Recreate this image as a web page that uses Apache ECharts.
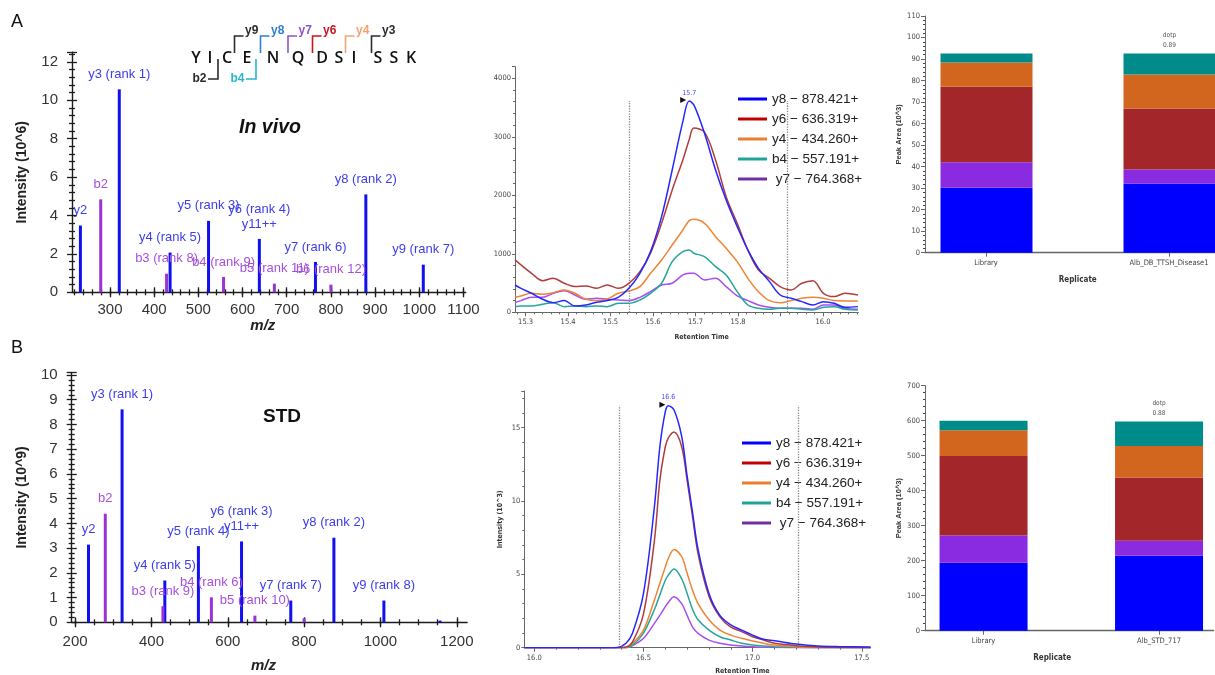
<!DOCTYPE html>
<html>
<head>
<meta charset="utf-8">
<script src="https://cdn.jsdelivr.net/npm/echarts@6/dist/echarts.min.js"></script>
<style>
  html, body { margin: 0; padding: 0; background: #fff; }
  #fig { width: 1215px; height: 675px; }
</style>
</head>
<body>
<div id="fig"></div>
<script>
// ---------- MS/MS spectra: fragment m/z, intensity, ion series, annotation ----------
const invivoMz        = [233, 279, 321, 428, 436, 523, 557, 638, 672, 765, 800, 879, 1009];
const invivoIntensity = [3.48, 4.84, 10.57, 0.97, 2.07, 3.72, 0.80, 2.78, 0.45, 1.58, 0.40, 5.10, 1.44];
const invivoIon       = ['y', 'b', 'y', 'b', 'y', 'y', 'b', 'y', 'b', 'y', 'b', 'y', 'y'];
const invivoLabels    = ['y2', 'b2', 'y3 (rank 1)', 'b3 (rank 8)', 'y4 (rank 5)', 'y5 (rank 3)', 'b4 (rank 9)',
                         'y6 (rank 4)\ny11++', 'b5 (rank 11)', 'y7 (rank 6)', 'b6 (rank 12)', 'y8 (rank 2)', 'y9 (rank 7)'];

const stdMz           = [235, 279, 323, 430, 435, 523, 557, 636, 671, 765, 800, 878, 1009, 1156];
const stdIntensity    = [3.14, 4.39, 8.61, 0.65, 1.69, 3.08, 1.01, 3.27, 0.27, 0.88, 0.16, 3.42, 0.88, 0.07];
const stdIon          = ['y', 'b', 'y', 'b', 'y', 'y', 'b', 'y', 'b', 'y', 'b', 'y', 'y', 'y'];
const stdLabels       = ['y2', 'b2', 'y3 (rank 1)', 'b3 (rank 9)', 'y4 (rank 5)', 'y5 (rank 4)', 'b4 (rank 6)',
                         'y6 (rank 3)\ny11++', 'b5 (rank 10)', 'y7 (rank 7)', '', 'y8 (rank 2)', 'y9 (rank 8)', ''];

// ---------- extracted-ion chromatograms ----------
const transitions = ['y8 − 878.421+', 'y6 − 636.319+', 'y4 − 434.260+', 'b4 − 557.191+', 'y7 − 764.368+'];

const invivoTime = [15.275, 15.289, 15.314, 15.340, 15.365, 15.391, 15.416, 15.442, 15.467, 15.492, 15.518, 15.543,
                    15.569, 15.594, 15.620, 15.645, 15.670, 15.685, 15.696, 15.721, 15.747, 15.772, 15.798, 15.823,
                    15.848, 15.874, 15.899, 15.925, 15.950, 15.976, 16.001, 16.026, 16.052, 16.082];
const invivoY8 = [467, 410, 325, 222, 165, 200, 108, 125, 171, 200, 256, 410, 667, 1037, 1635, 2433, 3260, 3610,
                  3545, 3060, 2433, 1920, 1465, 1066, 752, 524, 296, 240, 182, 125, 182, 154, 85, 97];
const invivoY6 = [895, 810, 667, 541, 581, 496, 439, 450, 410, 467, 410, 496, 695, 1009, 1521, 2091, 2604, 2950,
                  3150, 3080, 2604, 1977, 1521, 1066, 724, 581, 439, 382, 496, 541, 325, 268, 325, 296];
const invivoY4 = [256, 279, 325, 308, 336, 382, 325, 222, 200, 228, 325, 365, 439, 667, 895, 1151, 1407, 1567,
                  1590, 1521, 1293, 1094, 866, 581, 353, 200, 165, 200, 239, 256, 239, 200, 194, 194];
const invivoB4 = [97, 108, 108, 137, 165, 97, 108, 97, 108, 97, 154, 154, 211, 325, 496, 866, 1037, 1066,
                  1009, 952, 781, 638, 353, 125, 68, 51, 68, 68, 51, 40, 85, 97, 51, 40];
const invivoY7 = [165, 200, 256, 256, 325, 370, 296, 222, 239, 222, 211, 200, 256, 353, 467, 496, 638, 667,
                  667, 553, 581, 439, 279, 200, 125, 85, 68, 68, 68, 51, 125, 125, 68, 51];
const invivoBoundaries = [15.545, 15.915];

const stdTime = [15.954, 16.0, 16.1, 16.2, 16.3, 16.38, 16.42, 16.45, 16.5, 16.55, 16.575, 16.6, 16.614, 16.64,
                 16.675, 16.7, 16.725, 16.75, 16.8, 16.85, 16.9, 16.95, 17.0, 17.05, 17.1, 17.2, 17.3, 17.4, 17.54];
const stdY8 = [0, 0, 0, 0, 0, 0.02, 0.3, 1.0, 3.7, 9.6, 13.7, 16.1, 16.5, 16.2, 14.4, 11.7, 9.2, 6.7, 3.7, 2.2,
               1.55, 1.2, 0.86, 0.57, 0.48, 0.25, 0.11, 0.07, 0.05];
const stdY6 = [0, 0, 0, 0, 0, 0, 0.05, 0.4, 2.3, 7.3, 11.4, 13.7, 14.3, 14.7, 13.7, 11.4, 8.9, 6.4, 3.5, 2.1,
               1.4, 1.1, 0.75, 0.52, 0.3, 0.14, 0.05, 0.02, 0];
const stdY4 = [0, 0, 0, 0, 0, 0, 0.02, 0.3, 1.2, 3.25, 4.4, 5.5, 6.1, 6.7, 6.2, 5.07, 3.9, 3.0, 1.9, 1.2,
               0.86, 0.64, 0.45, 0.3, 0.18, 0.07, 0.02, 0, 0];
const stdB4 = [0, 0, 0, 0, 0, 0, 0, 0.18, 1.0, 2.6, 3.6, 4.6, 4.95, 5.36, 4.7, 3.7, 2.6, 1.9, 1.2, 0.75,
               0.52, 0.3, 0.18, 0.11, 0.07, 0.03, 0, 0, 0];
const stdY7 = [0, 0, 0, 0, 0, 0, 0, 0.14, 0.64, 1.66, 2.2, 2.8, 3.1, 3.48, 3.0, 2.2, 1.4, 0.98, 0.52, 0.3,
               0.18, 0.11, 0.07, 0.03, 0.02, 0, 0, 0, 0];
const stdBoundaries = [16.389, 17.207];

// ---------- peak areas per replicate (10^3), stacked bottom to top: y8, y7, y6, y4, b4 ----------
const invivoReplicates = ['Library', 'Alb_DB_TTSH_Disease1'];
const invivoAreaY8 = [30.2, 32.2];
const invivoAreaY7 = [11.8, 6.5];
const invivoAreaY6 = [35.1, 28.3];
const invivoAreaY4 = [11.3, 15.8];
const invivoAreaB4 = [4.2, 9.8];
const invivoDotp = 0.89;

const stdReplicates = ['Library', 'Alb_STD_717'];
const stdAreaY8 = [194, 214];
const stdAreaY7 = [78, 43];
const stdAreaY6 = [227, 181];
const stdAreaY4 = [74, 90];
const stdAreaB4 = [27, 70];
const stdDotp = 0.88;

// ---------- peptide fragmentation map ----------
const peptide = ['Y', 'I', 'C', 'E', 'N', 'Q', 'D', 'S', 'I', 'S', 'S', 'K'];
const yFragments = ['y9', 'y8', 'y7', 'y6', 'y4', 'y3'];
const bFragments = ['b2', 'b4'];

// ---------- styling ----------
const FONT = "'Liberation Sans', Arial, sans-serif";
const NARROW = "'Liberation Sans Narrow', 'DejaVu Sans Condensed', 'Liberation Sans', sans-serif";
const UI = "'Open Sans', 'Noto Sans', sans-serif";

const ionColor = { y: '#1010f0', b: '#9a32d6' };
const ionLabelColor = { y: '#3d3dea', b: '#a650dc' };
const traceColor = ['#2626ff', '#b23c3c', '#ee8434', '#26a69a', '#a64ff0'];
const legendColor = ['#0000ff', '#c00000', '#ed7d31', '#1fa39a', '#7030a0'];
const areaColor = { y8: '#0000ff', y7: '#8a2be2', y6: '#a3262a', y4: '#d2661e', b4: '#008b8b' };

const fragLayout = {
  residueX: [196, 210, 227, 247, 273, 298, 322, 339, 354, 378, 394, 411],
  yX: [234.5, 260.5, 288, 312.5, 345.5, 371.5],
  yColor: ['#2b2b2b', '#2f7fd3', '#8e55c8', '#c8161e', '#f3a26e', '#2b2b2b'],
  bX: [218, 256],
  bColor: ['#2b2b2b', '#2ab5c9']
};

const grids = [
  { left: 72,    top: 52.3,  width: 393.7, height: 240 },   // 0 spectrum, in vivo
  { left: 515,   top: 66.6,  width: 343.3, height: 245.7 }, // 1 chromatogram, in vivo
  { left: 925,   top: 16,    width: 335.5, height: 236.7 }, // 2 peak-area frame, in vivo
  { left: 71.7,  top: 372.5, width: 395.4, height: 249.8 }, // 3 spectrum, STD
  { left: 524.3, top: 391,   width: 346.2, height: 256.7 }, // 4 chromatogram, STD
  { left: 925,   top: 385.7, width: 288.4, height: 245 },   // 5 peak-area frame, STD
  { left: 895,   top: 16,    width: 366,   height: 236.7 }, // 6 replicate bands, in vivo
  { left: 895.8, top: 385.7, width: 351,   height: 245 }    // 7 replicate bands, STD
].map(g => Object.assign({ outerBoundsMode: 'none', containLabel: false }, g));

const xAxes = [], yAxes = [], series = [];
const addX = o => { xAxes.push(o); return xAxes.length - 1; };
const addY = o => { yAxes.push(o); return yAxes.length - 1; };
const steps = (a, b, s) => { const r = []; for (let k = 0; a + k * s <= b + 1e-9; k++) r.push(+(a + k * s).toFixed(4)); return r; };
const plain = v => String(+v.toFixed(4));
const hidden = { axisLine: { show: false }, axisLabel: { show: false }, splitLine: { show: false } };

// ---------- spectrum panel ----------
function spectrumPanel(g, cfg, mz, inten, ion, labels) {
  const ink = '#1c1c1c';
  const tick = { color: ink, width: 1.3 };
  const xb = { gridIndex: g, type: 'value', min: cfg.xMin, max: cfg.xMax, position: 'bottom', splitLine: { show: false } };
  const xi = addX(Object.assign({}, xb, {
    axisLine: { show: true, onZero: false, lineStyle: { color: ink, width: 1.4 } },
    axisTick: { show: true, customValues: cfg.major, length: 5, lineStyle: tick },
    axisLabel: { show: true, customValues: cfg.labels, margin: cfg.labelMargin, fontSize: 15, color: '#333',
                 fontFamily: FONT, formatter: plain },
    name: 'm/z', nameLocation: 'middle', nameGap: cfg.nameGap,
    nameTextStyle: { fontSize: 15, fontWeight: 'bold', fontStyle: 'italic', color: '#222', fontFamily: FONT, padding: [0, 12, 0, 0] }
  }));
  addX(Object.assign({}, xb, hidden, { axisTick: { show: true, inside: true, customValues: cfg.major, length: 5, lineStyle: tick } }));
  addX(Object.assign({}, xb, hidden, { axisTick: { show: true, customValues: cfg.minor, length: 3, lineStyle: tick } }));
  addX(Object.assign({}, xb, hidden, { axisTick: { show: true, inside: true, customValues: cfg.minor, length: 3, lineStyle: tick } }));

  const yb = { gridIndex: g, type: 'value', min: 0, max: cfg.yMax, interval: cfg.yInterval, position: 'left', splitLine: { show: false } };
  const minor = { show: true, splitNumber: 5, length: 3, lineStyle: tick };
  const yi = addY(Object.assign({}, yb, {
    axisLine: { show: true, onZero: false, lineStyle: { color: ink, width: 1.4 } },
    axisTick: { show: true, length: 5, lineStyle: tick },
    minorTick: minor,
    axisLabel: { show: true, margin: 14, fontSize: 15, color: '#333', fontFamily: FONT, showMaxLabel: false, formatter: plain },
    name: cfg.yName, nameLocation: 'middle', nameGap: 43,
    nameTextStyle: { fontSize: 14, fontWeight: 'bold', color: '#222', fontFamily: FONT }
  }));
  addY(Object.assign({}, yb, hidden, { axisTick: { show: true, inside: true, length: 5, lineStyle: tick }, minorTick: minor }));

  ['y', 'b'].forEach(kind => {
    series.push({
      type: 'bar', name: kind + ' ions', xAxisIndex: xi, yAxisIndex: yi,
      barWidth: 3, barGap: '-100%', itemStyle: { color: ionColor[kind] },
      label: { show: true, position: 'top', distance: 7.5, fontSize: 13, lineHeight: 15,
               color: ionLabelColor[kind], fontFamily: FONT, formatter: '{b}' },
      data: mz.map((m, i) => ion[i] === kind ? { name: labels[i], value: [m, inten[i]] } : null).filter(Boolean)
    });
  });
}

spectrumPanel(0, {
  xMin: 214, xMax: 1105, labels: steps(300, 1100, 100), major: steps(300, 1100, 100), minor: steps(220, 1100, 20),
  labelMargin: 10, nameGap: 21, yMax: 12.5, yInterval: 2, yName: 'Intensity (10^6)'
}, invivoMz, invivoIntensity, invivoIon, invivoLabels);

spectrumPanel(3, {
  xMin: 191, xMax: 1227, labels: steps(200, 1200, 200), major: steps(200, 1200, 200), minor: steps(200, 1200, 50),
  labelMargin: 12, nameGap: 36, yMax: 10.1, yInterval: 1, yName: 'Intensity (10^9)'
}, stdMz, stdIntensity, stdIon, stdLabels);

// ---------- chromatogram panel ----------
function peakOf(time, vals) {
  let k = 0;
  vals.forEach((v, i) => { if (v > vals[k]) k = i; });
  return [time[k], vals[k]];
}

function chromPanel(g, cfg, time, traces, boundaries) {
  const ink = '#666';
  const xb = { gridIndex: g, type: 'value', min: cfg.xMin, max: cfg.xMax, position: 'bottom', splitLine: { show: false } };
  const xi = addX(Object.assign({}, xb, {
    axisLine: { show: true, onZero: false, lineStyle: { color: ink, width: 1 } },
    axisTick: { show: true, customValues: cfg.major, length: 4, lineStyle: { color: ink } },
    axisLabel: { show: true, customValues: cfg.labels, margin: 6, fontSize: 7.5, color: '#444', fontFamily: NARROW,
                 formatter: v => v.toFixed(1) },
    name: 'Retention Time', nameLocation: 'middle', nameGap: cfg.nameGap,
    nameTextStyle: { fontSize: 7, fontWeight: 'bold', color: '#333', fontFamily: NARROW, padding: cfg.namePad }
  }));
  addX(Object.assign({}, xb, hidden, { axisTick: { show: true, customValues: cfg.minor, length: 2, lineStyle: { color: ink } } }));
  const yi = addY({
    gridIndex: g, type: 'value', min: 0, max: cfg.yMax, interval: cfg.yInterval, position: 'left',
    splitLine: { show: false },
    axisLine: { show: true, onZero: false, lineStyle: { color: ink, width: 1 } },
    axisTick: { show: true, length: 3, lineStyle: { color: ink } },
    minorTick: { show: true, splitNumber: 5, length: 2, lineStyle: { color: ink } },
    axisLabel: { show: true, margin: 4, fontSize: 7.5, color: '#444', fontFamily: NARROW, showMaxLabel: false, formatter: plain },
    name: cfg.yName, nameLocation: 'middle', nameGap: 21,
    nameTextStyle: { fontSize: 7, fontWeight: 'bold', color: '#333', fontFamily: NARROW }
  });

  const peak = peakOf(time, traces[0]);
  // y7 first and y8 last, so the y8 trace sits on top
  [4, 3, 2, 1, 0].forEach(k => {
    const s = {
      type: 'line', name: transitions[k], xAxisIndex: xi, yAxisIndex: yi,
      showSymbol: false, smooth: 0.35, z: 2 + (4 - k),
      lineStyle: { color: traceColor[k], width: 1.5 }, itemStyle: { color: traceColor[k] },
      data: time.map((t, i) => [t, traces[k][i]])
    };
    if (k === 0) {
      s.markLine = {
        silent: true, symbol: ['none', 'none'], label: { show: false },
        lineStyle: { color: '#8a8a8a', type: 'dotted', width: 1.3 },
        data: boundaries.map(b => [{ coord: [b, 0] }, { coord: [b, peak[1]] }])
      };
      s.markPoint = {
        silent: true,
        data: [
          { coord: peak, symbol: 'triangle', symbolRotate: -90, symbolSize: 6, symbolOffset: [-6, -1],
            itemStyle: { color: '#111' }, label: { show: false } },
          { coord: peak, symbol: 'circle', symbolSize: 1, itemStyle: { color: 'rgba(0,0,0,0)' },
            label: { show: true, position: 'top', distance: 4, formatter: peak[0].toFixed(1),
                     fontSize: 7, color: '#4b4bff', fontFamily: NARROW } }
        ]
      };
    }
    series.push(s);
  });
}

chromPanel(1, {
  xMin: 15.275, xMax: 16.083, labels: [15.3, 15.4, 15.5, 15.6, 15.7, 15.8, 16.0],
  major: steps(15.3, 16.0, 0.1), minor: steps(15.28, 16.08, 0.02),
  nameGap: 21, namePad: [0, 0, 0, 30], yMax: 4200, yInterval: 1000, yName: ''
}, invivoTime, [invivoY8, invivoY6, invivoY4, invivoB4, invivoY7], invivoBoundaries);

chromPanel(4, {
  xMin: 15.954, xMax: 17.54, labels: [16.0, 16.5, 17.0, 17.5],
  major: steps(16.0, 17.5, 0.5), minor: steps(16.0, 17.5, 0.1),
  nameGap: 20, namePad: [0, 0, 0, 90], yMax: 17.5, yInterval: 5, yName: 'Intensity (10^3)'
}, stdTime, [stdY8, stdY6, stdY4, stdB4, stdY7], stdBoundaries);

// ---------- peak-area panel: visible frame grid + replicate band grid for the stacked bars ----------
function areaPanel(g, bandGrid, cfg, replicates, layers, dotp) {
  const ink = '#666';
  const ticks = replicates.map((r, i) => i);
  addX({
    gridIndex: g, type: 'value', min: cfg.xMin, max: cfg.xMax, position: 'bottom', splitLine: { show: false },
    axisLine: { show: true, onZero: false, lineStyle: { color: ink, width: 1.4 } },
    axisTick: { show: true, customValues: ticks, length: 4, lineStyle: { color: ink } },
    axisLabel: { show: true, customValues: ticks, margin: 6, fontSize: 7.5, color: '#444', fontFamily: NARROW,
                 formatter: v => replicates[Math.round(v)] },
    name: 'Replicate', nameLocation: 'middle', nameGap: 23,
    nameTextStyle: { fontSize: 8, fontWeight: 'bold', color: '#333', fontFamily: NARROW, padding: cfg.namePad }
  });
  addY({
    gridIndex: g, type: 'value', min: 0, max: cfg.yMax, interval: cfg.yInterval, position: 'left',
    splitLine: { show: false },
    axisLine: { show: true, onZero: false, lineStyle: { color: ink, width: 1 } },
    axisTick: { show: true, length: 4, lineStyle: { color: ink } },
    minorTick: { show: true, splitNumber: 5, length: 2, lineStyle: { color: '#444' } },
    axisLabel: { show: true, margin: 5, fontSize: 7.5, color: '#444', fontFamily: NARROW, formatter: plain },
    name: 'Peak Area (10^3)', nameLocation: 'middle', nameGap: cfg.yNameGap,
    nameTextStyle: { fontSize: 7.5, fontWeight: 'bold', color: '#333', fontFamily: FONT }
  });
  const bx = addX({ gridIndex: bandGrid, type: 'category', data: replicates, boundaryGap: true, show: false });
  const by = addY({ gridIndex: bandGrid, type: 'value', min: 0, max: cfg.yMax, show: false, splitLine: { show: false } });
  layers.forEach((layer, li) => {
    const top = li === layers.length - 1;
    series.push({
      type: 'bar', name: layer.key + ' peak area', xAxisIndex: bx, yAxisIndex: by, stack: 'area' + g,
      barWidth: cfg.barWidth, itemStyle: { color: areaColor[layer.key] },
      data: layer.values.map((v, i) => (top && i === 1)
        ? { value: v, label: { show: true, position: 'top', distance: 3, formatter: 'dotp\n' + dotp.toFixed(2),
                               fontSize: 6.5, lineHeight: 10, color: '#555', fontFamily: NARROW } }
        : v)
    });
  });
}

areaPanel(2, 6, { xMin: -1 / 3, xMax: 1.5, yMax: 110, yInterval: 10, barWidth: 92, namePad: [0, 30, 0, 0], yNameGap: 20 },
  invivoReplicates,
  [{ key: 'y8', values: invivoAreaY8 }, { key: 'y7', values: invivoAreaY7 }, { key: 'y6', values: invivoAreaY6 },
   { key: 'y4', values: invivoAreaY4 }, { key: 'b4', values: invivoAreaB4 }], invivoDotp);

areaPanel(5, 7, { xMin: -1 / 3, xMax: 1.31, yMax: 700, yInterval: 100, barWidth: 88, namePad: [0, 34, 0, 0], yNameGap: 16 },
  stdReplicates,
  [{ key: 'y8', values: stdAreaY8 }, { key: 'y7', values: stdAreaY7 }, { key: 'y6', values: stdAreaY6 },
   { key: 'y4', values: stdAreaY4 }, { key: 'b4', values: stdAreaB4 }], stdDotp);

// ---------- legends ----------
const legendItems = transitions.map((t, k) => ({ name: t, itemStyle: { color: legendColor[k] } }));
const legendBase = {
  orient: 'vertical', icon: 'rect', itemWidth: 29, itemHeight: 3, itemGap: 2, padding: 0,
  selectedMode: false, data: legendItems,
  formatter: n => (n.indexOf('y7') === 0 ? ' ' + n : n),
  textStyle: { fontSize: 13.5, lineHeight: 18, color: '#222', fontFamily: FONT }
};

// ---------- annotations and fragment map ----------
const graphics = [
  { type: 'text', x: 17, y: 22, style: { text: 'A', fontSize: 18, fontFamily: FONT, fill: '#111', align: 'center', verticalAlign: 'middle' } },
  { type: 'text', x: 17, y: 348, style: { text: 'B', fontSize: 18, fontFamily: FONT, fill: '#111', align: 'center', verticalAlign: 'middle' } },
  { type: 'text', x: 270, y: 128, style: { text: 'In vivo', fontSize: 19.5, fontWeight: 'bold', fontStyle: 'italic', fontFamily: FONT, fill: '#111', align: 'center', verticalAlign: 'middle' } },
  { type: 'text', x: 282, y: 417, style: { text: 'STD', fontSize: 19, fontWeight: 'bold', fontFamily: FONT, fill: '#111', align: 'center', verticalAlign: 'middle' } }
];
peptide.forEach((aa, i) => {
  graphics.push({ type: 'text', x: fragLayout.residueX[i], y: 58.5,
    style: { text: aa, fontSize: 16, fontWeight: 600, fontFamily: UI, fill: '#111', align: 'center', verticalAlign: 'middle' } });
});
yFragments.forEach((f, i) => {
  const x = fragLayout.yX[i], c = fragLayout.yColor[i];
  graphics.push({ type: 'polyline', shape: { points: [[x, 53], [x, 36], [x + 9, 36]] }, style: { stroke: c, lineWidth: 1.6, fill: null } });
  graphics.push({ type: 'text', x: x + 10.5, y: 31, style: { text: f, fontSize: 12, fontWeight: 'bold', fontFamily: FONT, fill: c, align: 'left', verticalAlign: 'middle' } });
});
bFragments.forEach((f, i) => {
  const x = fragLayout.bX[i], c = fragLayout.bColor[i];
  graphics.push({ type: 'polyline', shape: { points: [[x, 59], [x, 79], [x - 10, 79]] }, style: { stroke: c, lineWidth: 1.6, fill: null } });
  graphics.push({ type: 'text', x: x - 11.5, y: 79, style: { text: f, fontSize: 12, fontWeight: 'bold', fontFamily: FONT, fill: c, align: 'right', verticalAlign: 'middle' } });
});

const chart = echarts.init(document.getElementById('fig'), null, { renderer: 'canvas' });
chart.setOption({
  backgroundColor: '#ffffff',
  animation: false,
  textStyle: { fontFamily: FONT },
  grid: grids,
  xAxis: xAxes,
  yAxis: yAxes,
  legend: [
    Object.assign({}, legendBase, { left: 738, top: 90 }),
    Object.assign({}, legendBase, { left: 742, top: 434 })
  ],
  series: series,
  graphic: graphics
});
</script>
</body>
</html>
